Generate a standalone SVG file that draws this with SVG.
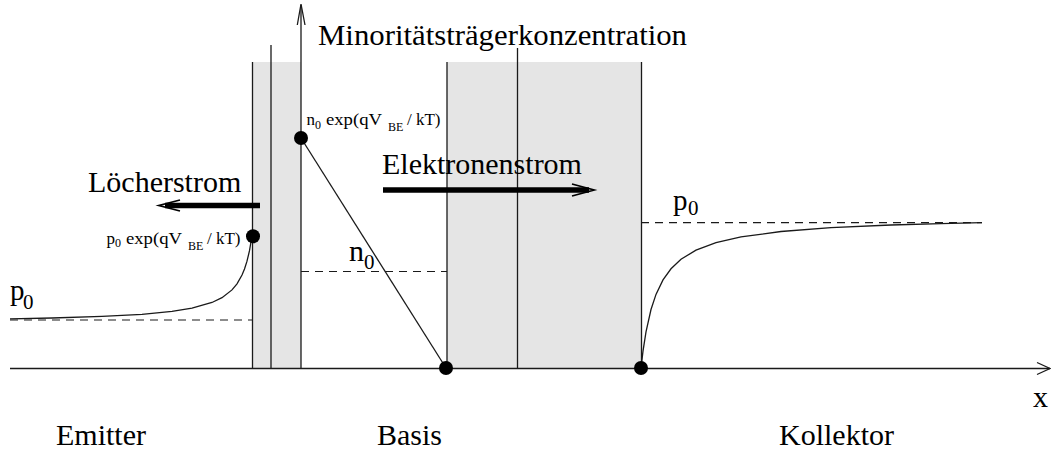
<svg xmlns="http://www.w3.org/2000/svg" width="1051" height="450" viewBox="0 0 1051 450">
<style>
.ln{stroke:#1a1a1a;stroke-width:1.3;fill:none}
.dash{stroke:#1a1a1a;stroke-width:1.2;fill:none;stroke-dasharray:8 6}
.thick{stroke:#000;stroke-width:5.5;fill:none}
.head{stroke:#000;stroke-width:1.8;fill:none}
.gray{fill:#e5e5e5;stroke:none}
.dot{fill:#000}
text{font-family:'Liberation Serif','Times New Roman',Times,serif;fill:#000}
.big{font-size:30px}
.sm{font-size:17px}
.sub{font-size:12px}
</style>
<rect width="1051" height="450" fill="#fff"/>
<g id="emitter-junction">
<rect class="gray" x="252" y="62" width="49" height="306"/>
<line class="ln" x1="252.5" y1="62" x2="252.5" y2="368"/>
<line class="ln" x1="271" y1="45" x2="271" y2="368"/>
</g>
<g id="base-collector-junction">
<rect class="gray" x="447" y="62" width="194" height="306"/>
<line class="ln" x1="447" y1="62" x2="447" y2="368"/>
<line class="ln" x1="517.5" y1="48" x2="517.5" y2="368"/>
<line class="ln" x1="641.5" y1="62" x2="641.5" y2="368"/>
</g>
<g id="connectors">
<line class="ln" x1="10" y1="368.5" x2="1050" y2="368.5"/>
<polyline class="ln" points="1037,362.5 1050,368.5 1037,374.5"/>
<line class="ln" x1="301" y1="368" x2="301" y2="5"/>
<polyline class="ln" points="297.3,25 301,4 305,25"/>
<line class="dash" x1="10" y1="320" x2="252" y2="320"/>
<line class="dash" x1="301" y1="271.5" x2="447" y2="271.5"/>
<line class="dash" x1="641" y1="222.7" x2="982" y2="222.7"/>
<polyline class="ln" points="10,318.8 52,318 102,316.4 142,314.3 172,311.4 192,308.2 212,302.5 222,297.7 232,289.9 237,283.8 242,275 244.5,269 247,261.2 249.5,250.7 252,236"/>
<line class="ln" x1="301" y1="138" x2="446" y2="368"/>
<polyline class="ln" points="641,368 643,351.1 646,331.8 651,309.5 656,294.4 663,279.9 671,268.8 681,259.3 696,250.1 716,242.6 741,236.9 781,231.5 831,227.7 891,225 941,223.6 982,222.7"/>
<line class="thick" x1="383" y1="190" x2="589" y2="190"/>
<polyline class="head" points="572,184 594,190 572,196"/>
<line class="thick" x1="260" y1="205.5" x2="165" y2="205.5"/>
<polyline class="head" points="180,200 159,205.5 180,211"/>
</g>
<g id="points">
<circle class="dot" cx="253" cy="236.3" r="7"/>
<circle class="dot" cx="301" cy="138" r="7"/>
<circle class="dot" cx="446" cy="368" r="7"/>
<circle class="dot" cx="641" cy="368" r="7"/>
</g>
<g id="labels">
<text class="big" x="318" y="45" textLength="369" lengthAdjust="spacingAndGlyphs">Minoritätsträgerkonzentration</text>
<text class="big" x="88" y="192">Löcherstrom</text>
<text class="big" x="382" y="174">Elektronenstrom</text>
<text class="big" x="56" y="445">Emitter</text>
<text class="big" x="377" y="445">Basis</text>
<text class="big" x="779" y="445">Kollektor</text>
<text class="big" x="1033" y="407">x</text>
</g>
<g id="label-p0-emitter">
<text x="10" y="300" font-size="29">p</text>
<text x="23" y="309" font-size="21">0</text>
</g>
<g id="label-n0">
<text x="349" y="261" font-size="30">n</text>
<text x="364" y="269" font-size="21">0</text>
</g>
<g id="label-p0-collector">
<text x="673" y="210" font-size="29">p</text>
<text x="688" y="215" font-size="21">0</text>
</g>
<g id="label-n0-exp">
<text class="sm" x="306.5" y="125">n</text>
<text class="sub" x="315" y="128.5">0</text>
<text class="sm" x="326" y="125" textLength="56" lengthAdjust="spacingAndGlyphs">exp(qV</text>
<text class="sub" x="388" y="131">BE</text>
<text class="sm" x="407" y="125">/ kT)</text>
</g>
<g id="label-p0-exp">
<text class="sm" x="106.5" y="243.5">p</text>
<text class="sub" x="115" y="247">0</text>
<text class="sm" x="126" y="243.5" textLength="56" lengthAdjust="spacingAndGlyphs">exp(qV</text>
<text class="sub" x="188" y="249.5">BE</text>
<text class="sm" x="207" y="243.5">/ kT)</text>
</g>
</svg>
